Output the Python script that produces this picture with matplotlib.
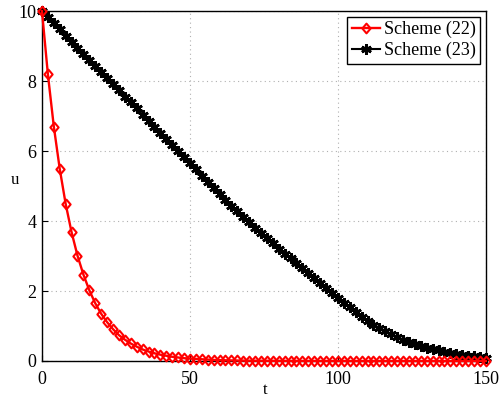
import numpy as np
import matplotlib
matplotlib.use("Agg")
import matplotlib.pyplot as plt
from matplotlib.path import Path

plt.rcParams['font.family'] = ['Liberation Serif', 'DejaVu Serif']

t = np.arange(0, 151, 2)

# scheme (22) - red diamonds
u22 = [10.0, 8.19, 6.70, 5.49, 4.49, 3.68, 3.01, 2.47, 2.02, 1.65,
       1.35, 1.11, 0.91, 0.74, 0.61, 0.50, 0.41, 0.33, 0.27, 0.22,
       0.18, 0.15, 0.12, 0.10, 0.08, 0.07, 0.06, 0.05, 0.04, 0.03,
       0.025, 0.02, 0.017, 0.014, 0.011, 0.009, 0.008, 0.007, 0.006, 0.005,
       0.004, 0.004, 0.003, 0.003, 0.002, 0.002, 0.002, 0.001, 0.001, 0.001,
       0.001, 0.001, 0.0, 0.0, 0.0, 0.0, 0.0, 0.0, 0.0, 0.0,
       0.0, 0.0, 0.0, 0.0, 0.0, 0.0, 0.0, 0.0, 0.0, 0.0,
       0.0, 0.0, 0.0, 0.0, 0.0, 0.0]

# scheme (23) - black stars
u23 = [10.0, 9.83, 9.65, 9.48, 9.30, 9.13, 8.96, 8.78, 8.61, 8.43,
       8.26, 8.09, 7.91, 7.74, 7.56, 7.39, 7.22, 7.04, 6.87, 6.69,
       6.52, 6.35, 6.17, 6.00, 5.82, 5.65, 5.48, 5.30, 5.13, 4.95,
       4.78, 4.61, 4.44, 4.28, 4.12, 3.96, 3.81, 3.66, 3.51, 3.36,
       3.21, 3.07, 2.93, 2.79, 2.65, 2.51, 2.37, 2.23, 2.08, 1.94,
       1.80, 1.67, 1.53, 1.40, 1.27, 1.15, 1.04, 0.94, 0.85, 0.76,
       0.68, 0.61, 0.54, 0.48, 0.43, 0.38, 0.34, 0.30, 0.27, 0.24,
       0.21, 0.18, 0.15, 0.13, 0.11, 0.09]

# matlab-like diamond (a bit taller than wide)
diamond = Path([(0, 1), (0.85, 0), (0, -1), (-0.85, 0), (0, 1)],
               [Path.MOVETO, Path.LINETO, Path.LINETO, Path.LINETO, Path.CLOSEPOLY])

fig = plt.figure(figsize=(5.01, 3.98), dpi=100)
ax = fig.add_axes([0.0838, 0.093, 0.886, 0.879])

ax.plot(t, u23, color="black", lw=1.5, marker=(6, 2, 0), ms=7.5, mew=1.9,
        label="Scheme (23)", clip_on=False, zorder=3)
ax.plot(t, u22, color="red", lw=1.7, marker=diamond, ms=7, mfc="none", mew=1.5,
        label="Scheme (22)", clip_on=False, zorder=4)

ax.set_xlim(0, 150)
ax.set_ylim(0, 10)
ax.set_xticks([0, 50, 100, 150])
ax.set_yticks([0, 2, 4, 6, 8, 10])
ax.grid(True, linestyle=(0, (1, 3)), color="#b0b0b0", lw=0.8)
ax.tick_params(direction="in", labelsize=13, length=4)
ax.tick_params(axis="x", pad=7)
ax.tick_params(axis="y", pad=4)
for s in ax.spines.values():
    s.set_linewidth(1.0)

ax.set_xlabel("t", fontsize=12, va="center")
ax.xaxis.set_label_coords(0.502, -0.083)
ax.set_ylabel("u", fontsize=12, rotation=0, va="center", ha="center")
ax.yaxis.set_label_coords(-0.061, 0.517)

handles, labels = ax.get_legend_handles_labels()
leg = ax.legend(handles[::-1], labels[::-1], loc="upper right", fontsize=13,
                fancybox=False, edgecolor="black", framealpha=1,
                handlelength=1.6, handletextpad=0.2, borderpad=0.25,
                labelspacing=0.2, borderaxespad=0.3)
leg.get_frame().set_linewidth(1.0)

fig.savefig("out.png", dpi=100)
